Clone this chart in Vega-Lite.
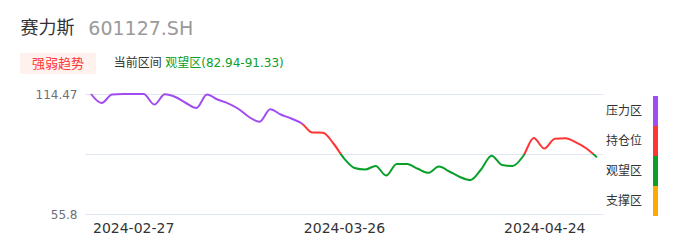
{
  "$schema": "https://vega.github.io/schema/vega-lite/v6.json",
  "width": 518,
  "height": 120,
  "autosize": {"type": "none"},
  "padding": {"left": 85, "top": 94, "right": 83, "bottom": 33},
  "background": "white",
  "config": {"view": {"stroke": null}, "font": "DejaVu Sans, Noto Sans CJK SC"},
  "datasets": {
    "price": [
      {"date": "2024-02-21", "close": 114.47},
      {"date": "2024-02-22", "close": 110.07},
      {"date": "2024-02-23", "close": 114.2},
      {"date": "2024-02-26", "close": 114.47},
      {"date": "2024-02-27", "close": 114.47},
      {"date": "2024-02-28", "close": 114.47},
      {"date": "2024-02-29", "close": 109.3},
      {"date": "2024-03-01", "close": 114.3},
      {"date": "2024-03-04", "close": 113.0},
      {"date": "2024-03-05", "close": 110.07},
      {"date": "2024-03-06", "close": 107.6},
      {"date": "2024-03-07", "close": 114.2},
      {"date": "2024-03-08", "close": 111.78},
      {"date": "2024-03-11", "close": 109.92},
      {"date": "2024-03-12", "close": 107.14},
      {"date": "2024-03-13", "close": 103.22},
      {"date": "2024-03-14", "close": 100.93},
      {"date": "2024-03-15", "close": 107.0},
      {"date": "2024-03-18", "close": 104.45},
      {"date": "2024-03-19", "close": 102.49},
      {"date": "2024-03-20", "close": 100.05},
      {"date": "2024-03-21", "close": 95.65},
      {"date": "2024-03-22", "close": 95.55},
      {"date": "2024-03-25", "close": 90.27},
      {"date": "2024-03-26", "close": 83.03},
      {"date": "2024-03-27", "close": 78.29},
      {"date": "2024-03-28", "close": 77.56},
      {"date": "2024-03-29", "close": 79.27},
      {"date": "2024-04-01", "close": 74.6},
      {"date": "2024-04-02", "close": 80.3},
      {"date": "2024-04-03", "close": 80.2},
      {"date": "2024-04-08", "close": 77.9},
      {"date": "2024-04-09", "close": 75.94},
      {"date": "2024-04-10", "close": 79.0},
      {"date": "2024-04-11", "close": 76.58},
      {"date": "2024-04-12", "close": 73.89},
      {"date": "2024-04-15", "close": 72.4},
      {"date": "2024-04-16", "close": 77.56},
      {"date": "2024-04-17", "close": 84.3},
      {"date": "2024-04-18", "close": 79.76},
      {"date": "2024-04-19", "close": 79.27},
      {"date": "2024-04-22", "close": 84.16},
      {"date": "2024-04-23", "close": 93.0},
      {"date": "2024-04-24", "close": 87.83},
      {"date": "2024-04-25", "close": 92.6},
      {"date": "2024-04-26", "close": 92.8},
      {"date": "2024-04-29", "close": 90.81},
      {"date": "2024-04-30", "close": 87.83},
      {"date": "2024-05-06", "close": 83.52}
    ],
    "zones": [
      {"zone": "压力区", "lo": 99.8025, "hi": 114.47},
      {"zone": "持仓位", "lo": 85.135, "hi": 99.8025},
      {"zone": "观望区", "lo": 70.4675, "hi": 85.135},
      {"zone": "支撑区", "lo": 55.8, "hi": 70.4675}
    ]
  },
  "layer": [
    {
      "data": {"name": "zones"},
      "mark": {"type": "rect", "opacity": 0},
      "encoding": {
        "y": {"field": "lo", "type": "quantitative", "scale": {"domain": [55.8, 114.47], "nice": false, "zero": false}},
        "y2": {"field": "hi"},
        "color": {
          "field": "zone",
          "type": "nominal",
          "sort": null,
          "scale": {"domain": ["压力区", "持仓位", "观望区", "支撑区"], "range": ["#A04CF2", "#FF3434", "#0A9F2A", "#FFAA00"]},
          "legend": {
            "orient": "none",
            "legendX": 555.5,
            "legendY": 2,
            "title": null,
            "padding": 0,
            "symbolType": "M-0.1667,-1H0.1667V1H-0.1667Z",
            "symbolSize": 900,
            "symbolStrokeWidth": 0,
            "symbolOpacity": 1,
            "labelAlign": "right",
            "labelOffset": -28.5,
            "rowPadding": 0,
            "labelFontSize": 12,
            "labelColor": "#333333",
            "labelFont": "Noto Sans CJK SC",
            "encode": {"symbols": {"update": {"opacity": {"value": 1}, "fillOpacity": {"value": 1}}}}
          }
        }
      }
    },
    {
      "data": {"name": "price"},
      "mark": {
        "type": "line",
        "interpolate": "monotone",
        "strokeWidth": 2,
        "stroke": {
          "gradient": "linear",
          "x1": 0, "y1": 0, "x2": 0, "y2": 1,
          "stops": [
            {"offset": 0, "color": "#A04CF2"},
            {"offset": 0.3486, "color": "#A04CF2"},
            {"offset": 0.3486, "color": "#FF3434"},
            {"offset": 0.6973, "color": "#FF3434"},
            {"offset": 0.6973, "color": "#0A9F2A"},
            {"offset": 1, "color": "#0A9F2A"}
          ]
        }
      },
      "encoding": {
        "x": {
          "field": "date",
          "type": "ordinal",
          "sort": null,
          "scale": {"type": "point", "padding": 0.57},
          "axis": {
            "title": null,
            "values": ["2024-02-27", "2024-03-26", "2024-04-24"],
            "labelAngle": 0,
            "ticks": false,
            "domain": false,
            "grid": false,
            "labelPadding": 7,
            "labelFontSize": 14,
            "labelColor": "#333333",
            "labelFont": "DejaVu Sans"
          }
        },
        "y": {
          "field": "close",
          "type": "quantitative",
          "scale": {"domain": [55.8, 114.47], "nice": false, "zero": false},
          "axis": {
            "title": null,
            "values": [55.8, 70.4675, 85.135, 99.8025, 114.47],
            "labelExpr": "datum.value == 55.8 || datum.value == 114.47 ? datum.value + '' : ''",
            "ticks": false,
            "domain": false,
            "gridColor": "#E0E6F1",
            "gridWidth": 1,
            "labelPadding": 8,
            "labelFontSize": 12,
            "labelColor": "#6E7079",
            "labelFont": "DejaVu Sans"
          }
        }
      }
    },
    {
      "data": {"values": [{"t": "赛力斯"}]},
      "mark": {"type": "text", "align": "left", "baseline": "middle", "fontSize": 18, "color": "#333333", "font": "Noto Sans CJK SC"},
      "encoding": {"x": {"value": -64.5}, "y": {"value": -65}, "text": {"field": "t"}}
    },
    {
      "data": {"values": [{"t": "601127.SH"}]},
      "mark": {"type": "text", "align": "left", "baseline": "middle", "fontSize": 19, "color": "#9A9A9A", "font": "DejaVu Sans"},
      "encoding": {"x": {"value": 3.3}, "y": {"value": -65}, "text": {"field": "t"}}
    },
    {
      "data": {"values": [{"t": "强弱趋势"}]},
      "mark": {"type": "rect", "color": "#FFF1EE"},
      "encoding": {"x": {"value": -65}, "x2": {"value": 11}, "y": {"value": -41}, "y2": {"value": -20}}
    },
    {
      "data": {"values": [{"t": "强弱趋势"}]},
      "mark": {"type": "text", "align": "center", "baseline": "middle", "fontSize": 13, "color": "#FF3434", "font": "Noto Sans CJK SC"},
      "encoding": {"x": {"value": -27}, "y": {"value": -30.5}, "text": {"field": "t"}}
    },
    {
      "data": {"values": [{"t": "当前区间"}]},
      "mark": {"type": "text", "align": "left", "baseline": "middle", "fontSize": 12, "color": "#333333", "font": "Noto Sans CJK SC"},
      "encoding": {"x": {"value": 28.8}, "y": {"value": -31}, "text": {"field": "t"}}
    },
    {
      "data": {"values": [{"t": "观望区(82.94-91.33)"}]},
      "mark": {"type": "text", "align": "left", "baseline": "middle", "fontSize": 12, "color": "#0A9F2A", "font": "DejaVu Sans, Noto Sans CJK SC"},
      "encoding": {"x": {"value": 80.3}, "y": {"value": -31}, "text": {"field": "t"}}
    }
  ]
}
